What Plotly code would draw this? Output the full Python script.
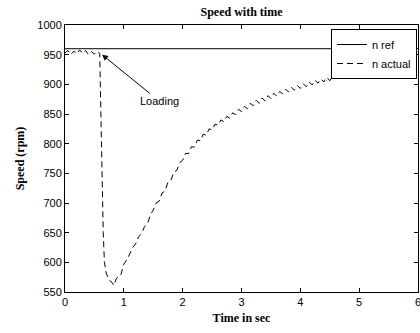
import plotly.graph_objects as go

t_ref = [0, 6]
n_ref = [960, 960]

t_act = [0, 0.05, 0.1, 0.15, 0.2, 0.25, 0.3, 0.35, 0.4, 0.45, 0.5, 0.55, 0.59,
         0.61, 0.63, 0.65, 0.67, 0.7, 0.75, 0.8, 0.83, 0.87, 0.9, 0.95,
         1.0, 1.05, 1.1, 1.15, 1.2, 1.25, 1.3, 1.35, 1.4, 1.45, 1.5, 1.55, 1.6, 1.65, 1.7, 1.75,
         1.8, 1.85, 1.9, 1.95, 2.0, 2.05, 2.1, 2.15, 2.2, 2.25, 2.3, 2.35, 2.4, 2.45, 2.5, 2.55,
         2.6, 2.65, 2.7, 2.75, 2.8, 2.85, 2.9, 2.95, 3.0, 3.05, 3.1, 3.15, 3.2, 3.25, 3.3, 3.35,
         3.4, 3.45, 3.5, 3.55, 3.6, 3.65, 3.7, 3.75, 3.8, 3.85, 3.9, 3.95, 4.0, 4.05, 4.1, 4.15,
         4.2, 4.25, 4.3, 4.35, 4.4, 4.45, 4.5, 4.55, 4.6, 4.65, 4.7, 4.75, 4.8, 4.85, 4.9, 4.95,
         5.0, 5.05, 5.1, 5.15, 5.2, 5.25, 5.3, 5.35, 5.4, 5.45, 5.5, 5.55, 5.6, 5.65, 5.7, 5.75,
         5.8, 5.85, 5.9, 5.95, 6.0]
n_act = [953, 957, 950, 956, 951, 958, 952, 957, 950, 955, 951, 956, 952,
         850, 730, 650, 600, 582, 570, 566, 561, 572, 576, 579,
         597, 604, 614, 625, 631, 643, 648, 660, 664, 680, 688, 700, 703, 717, 720, 735,
         738, 752, 755, 768, 772, 784, 783, 795, 794, 806, 805, 816, 814, 825, 823, 833,
         831, 840, 837, 846, 843, 852, 849, 858, 854, 863, 859, 868, 864, 873, 868, 877,
         872, 881, 876, 885, 880, 888, 884, 892, 887, 895, 890, 898, 893, 901, 896, 904,
         899, 907, 902, 909, 904, 912, 906, 914, 909, 916, 911, 918, 913, 920, 915, 922,
         916, 924, 918, 925, 919, 927, 921, 928, 922, 929, 923, 930, 924, 931, 925, 932,
         926, 933, 927, 934, 928]

x_ticks = [0, 1, 2, 3, 4, 5, 6]
y_ticks = [550, 600, 650, 700, 750, 800, 850, 900, 950, 1000]

fig = go.Figure()
fig.add_trace(go.Scatter(x=t_ref, y=n_ref, mode="lines", name="n ref",
                         line=dict(color="black", width=1)))
fig.add_trace(go.Scatter(x=t_act, y=n_act, mode="lines", name="n actual",
                         line=dict(color="black", width=1, dash="6px,4px")))

axis_common = dict(showline=True, linecolor="black", linewidth=1, mirror="ticks",
                   ticks="inside", ticklen=4, tickcolor="black", showgrid=False,
                   zeroline=False, automargin=False, ticklabeloverflow="allow",
                   tickfont=dict(family="Liberation Sans, Arial", size=11, color="black"))

fig.update_xaxes(range=[0, 6], tickvals=x_ticks,
                 title=dict(text="<b>Time in sec</b>", standoff=6,
                            font=dict(family="Liberation Serif, Times New Roman", size=12, color="black")),
                 **axis_common)
fig.update_yaxes(range=[550, 1000], tickvals=y_ticks,
                 title=dict(text="<b>Speed (rpm)</b>", standoff=10,
                            font=dict(family="Liberation Serif, Times New Roman", size=12, color="black")),
                 **axis_common)

fig.add_annotation(x=0.63, y=950, ax=1.6, ay=872, axref="x", ayref="y",
                   text="Loading", showarrow=True, arrowhead=2, arrowsize=1.2, arrowwidth=1,
                   arrowcolor="black",
                   font=dict(family="Liberation Sans, Arial", size=11, color="black"))

fig.update_layout(
    width=420, height=333,
    margin=dict(l=65, r=2, t=25, b=41, autoexpand=False),
    paper_bgcolor="white", plot_bgcolor="white",
    title=dict(text="<b>Speed with time</b>", x=0.5, xref="paper", xanchor="center",
               y=1 - 12 / 333, yref="container", yanchor="middle", automargin=False,
               font=dict(family="Liberation Serif, Times New Roman", size=12, color="black")),
    legend=dict(x=0.997, y=0.985, xanchor="right", yanchor="top",
                bgcolor="white", bordercolor="black", borderwidth=1,
                font=dict(family="Liberation Sans, Arial", size=11, color="black"),
                tracegroupgap=0),
    showlegend=True,
)

fig.write_html("out.html", config={"displayModeBar": False},
               post_script="document.body.style.margin='0';document.body.style.overflow='hidden';")
